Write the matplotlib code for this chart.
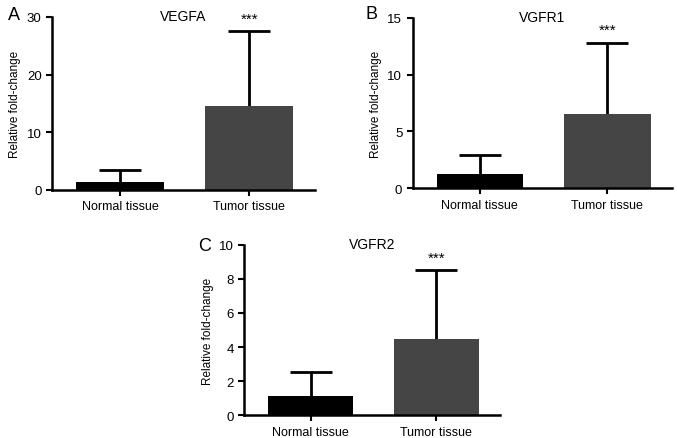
import numpy as np
import matplotlib
matplotlib.use("Agg")
import matplotlib.pyplot as plt

plt.rcParams['font.family'] = ['Liberation Sans', 'DejaVu Sans']

groups = ["Normal tissue", "Tumor tissue"]
genes = ["VEGFA", "VGFR1", "VGFR2"]
letters = ["A", "B", "C"]
means = [[1.45, 14.5], [1.25, 6.5], [1.12, 4.48]]
sd_upper = [[2.05, 13.0], [1.65, 6.3], [1.4, 4.02]]
ymax = [30, 15, 10]
ystep = [10, 5, 2]
colors = ["#000000", "#454545"]

fig = plt.figure(figsize=(6.77, 4.39), dpi=100)
rects = [
    [0.0768, 0.565, 0.388, 0.394],
    [0.6096, 0.569, 0.3826, 0.388],
    [0.361, 0.0517, 0.3776, 0.3886],
]
letter_pos = [(0.012, 0.984), (0.540, 0.986), (0.293, 0.458)]

for i in range(3):
    ax = fig.add_axes(rects[i])
    x = np.arange(len(groups))
    ax.bar(x, means[i], width=0.68, color=colors, zorder=2)
    eb = ax.errorbar(x, means[i], yerr=[np.zeros(2), sd_upper[i]], fmt="none",
                     ecolor="black", elinewidth=2, capsize=15, capthick=2, zorder=1)
    eb[1][0].set_visible(False)  # no lower cap
    ax.set_xlim(-0.527, 1.506)
    ax.set_ylim(0, ymax[i])
    ax.set_yticks(np.arange(0, ymax[i] + 0.1, ystep[i]))
    ax.set_xticks(x)
    ax.set_xticklabels(groups, fontsize=9)
    ax.tick_params(axis="y", labelsize=9.5, width=1.5, length=4)
    ax.tick_params(axis="x", width=1.5, length=4)
    ax.set_ylabel("Relative fold-change", fontsize=8.5)
    ax.spines["top"].set_visible(False)
    ax.spines["right"].set_visible(False)
    ax.spines["left"].set_linewidth(1.8)
    ax.spines["bottom"].set_linewidth(1.8)
    ax.set_title(genes[i], fontsize=10, pad=2, y=0.965)
    top = means[i][1] + sd_upper[i][1]
    ax.text(1, top + ymax[i] * 0.035, "***", ha="center", va="bottom", fontsize=11)
    fig.text(letter_pos[i][0], letter_pos[i][1], letters[i], fontsize=13, va="top")

fig.savefig("out.png", dpi=100)
